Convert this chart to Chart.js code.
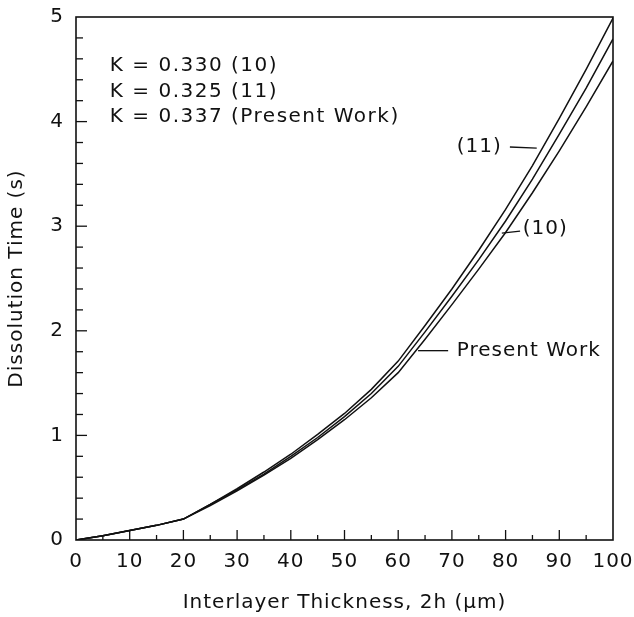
<!DOCTYPE html>
<html>
<head>
<meta charset="utf-8">
<script src="https://cdn.jsdelivr.net/npm/chart.js@4.4.1/dist/chart.umd.min.js"></script>
<style>
  html, body { margin: 0; padding: 0; background: #fff; }
</style>
</head>
<body>
<canvas id="chart" width="634" height="617"></canvas>
<script>
// values
const thickness = [0, 5, 10, 15, 20, 25, 30, 35, 40, 45, 50, 55, 60, 65, 70, 75, 80, 85, 90, 95, 100];
const presentWork = [0, 0.04, 0.09, 0.14, 0.20, 0.33, 0.47, 0.62, 0.78, 0.96, 1.15, 1.36, 1.60, 1.92, 2.25, 2.59, 2.94, 3.32, 3.72, 4.14, 4.58];
const ref10 = [0, 0.04, 0.09, 0.14, 0.20, 0.34, 0.48, 0.63, 0.80, 0.98, 1.18, 1.40, 1.66, 1.99, 2.33, 2.68, 3.05, 3.45, 3.88, 4.32, 4.79];
const ref11 = [0, 0.04, 0.09, 0.14, 0.20, 0.34, 0.49, 0.65, 0.82, 1.01, 1.21, 1.44, 1.71, 2.05, 2.40, 2.77, 3.16, 3.58, 4.03, 4.50, 4.99];
const kLabels = ['K = 0.330 (10)', 'K = 0.325 (11)', 'K = 0.337 (Present Work)'];

const ink = '#111';
const fontFamily = '"DejaVu Sans", sans-serif';
Chart.defaults.font.family = fontFamily;
Chart.defaults.font.size = 20;
Chart.defaults.color = ink;

function toPoints(ys) {
  return thickness.map((x, i) => ({ x: x, y: ys[i] }));
}

function lineSet(label, ys) {
  return {
    label: label,
    data: toPoints(ys),
    showLine: true,
    borderColor: ink,
    borderWidth: 1.5,
    pointRadius: 0,
    tension: 0,
    fill: false
  };
}

// hidden tick marks only used to space the labels off the axis
function spacer(len) {
  return { display: true, drawOnChartArea: false, drawTicks: true, tickLength: len, color: 'rgba(0,0,0,0)' };
}

// frame, inward ticks and labels on the plot
const decor = {
  id: 'decor',
  beforeDraw(chart) {
    chart.ctx.letterSpacing = '1px';
  },
  afterDatasetsDraw(chart) {
    const ctx = chart.ctx;
    const a = chart.chartArea;
    const xs = chart.scales.x, ys = chart.scales.y;
    ctx.save();
    ctx.strokeStyle = ink;
    ctx.fillStyle = ink;

    ctx.lineWidth = 1.3;
    for (let i = 1; i < 25; i++) {
      const py = ys.getPixelForValue(i / 5);
      const len = i % 5 === 0 ? 11 : 7;
      ctx.beginPath();
      ctx.moveTo(a.left, py);
      ctx.lineTo(a.left + len, py);
      ctx.stroke();
    }
    for (let i = 1; i < 20; i++) {
      const px = xs.getPixelForValue(i * 5);
      const len = i % 2 === 0 ? 10 : 5;
      ctx.beginPath();
      ctx.moveTo(px, a.bottom);
      ctx.lineTo(px, a.bottom - len);
      ctx.stroke();
    }

    ctx.lineWidth = 1.6;
    ctx.strokeRect(a.left, a.top, a.right - a.left, a.bottom - a.top);

    ctx.font = '20px ' + fontFamily;
    ctx.letterSpacing = '1.5px';
    ctx.textBaseline = 'middle';
    ctx.textAlign = 'left';
    const kY = [4.536, 4.281, 4.042];
    kLabels.forEach((t, i) => {
      ctx.fillText(t, xs.getPixelForValue(6.3), ys.getPixelForValue(kY[i]));
    });

    ctx.letterSpacing = '1px';
    ctx.textAlign = 'right';
    ctx.fillText('(11)', xs.getPixelForValue(79.3), ys.getPixelForValue(3.757));
    ctx.textAlign = 'left';
    ctx.fillText('(10)', xs.getPixelForValue(83.2), ys.getPixelForValue(2.971));
    ctx.fillText('Present Work', xs.getPixelForValue(70.9), ys.getPixelForValue(1.81));

    ctx.lineWidth = 1.3;
    const leaders = [
      [80.8, 3.757, 85.8, 3.747],
      [79.3, 2.933, 82.7, 2.952],
      [63.7, 1.81, 69.3, 1.81]
    ];
    leaders.forEach(l => {
      ctx.beginPath();
      ctx.moveTo(xs.getPixelForValue(l[0]), ys.getPixelForValue(l[1]));
      ctx.lineTo(xs.getPixelForValue(l[2]), ys.getPixelForValue(l[3]));
      ctx.stroke();
    });
    ctx.restore();
  }
};

new Chart(document.getElementById('chart'), {
  type: 'scatter',
  data: {
    datasets: [
      lineSet('(11)', ref11),
      lineSet('(10)', ref10),
      lineSet('Present Work', presentWork)
    ]
  },
  options: {
    responsive: false,
    animation: false,
    devicePixelRatio: 1,
    layout: { padding: { top: 17, right: 21, left: 0, bottom: 0 } },
    plugins: { legend: { display: false }, tooltip: { enabled: false } },
    scales: {
      x: {
        type: 'linear',
        min: 0,
        max: 100,
        grid: spacer(10),
        border: { display: false },
        ticks: { stepSize: 10, padding: 0, color: ink },
        title: {
          display: true,
          text: 'Interlayer Thickness, 2h (\u03bcm)',
          color: ink,
          padding: { top: 0, bottom: 2 }
        },
        afterFit(s) { s.height = 77; }
      },
      y: {
        type: 'linear',
        min: 0,
        max: 5,
        grid: spacer(12),
        border: { display: false },
        ticks: { stepSize: 1, padding: 0, color: ink },
        title: {
          display: true,
          text: 'Dissolution Time (s)',
          color: ink,
          padding: { top: 5, bottom: 0 }
        },
        afterFit(s) { s.width = 76; }
      }
    }
  },
  plugins: [decor]
});
</script>
</body>
</html>
